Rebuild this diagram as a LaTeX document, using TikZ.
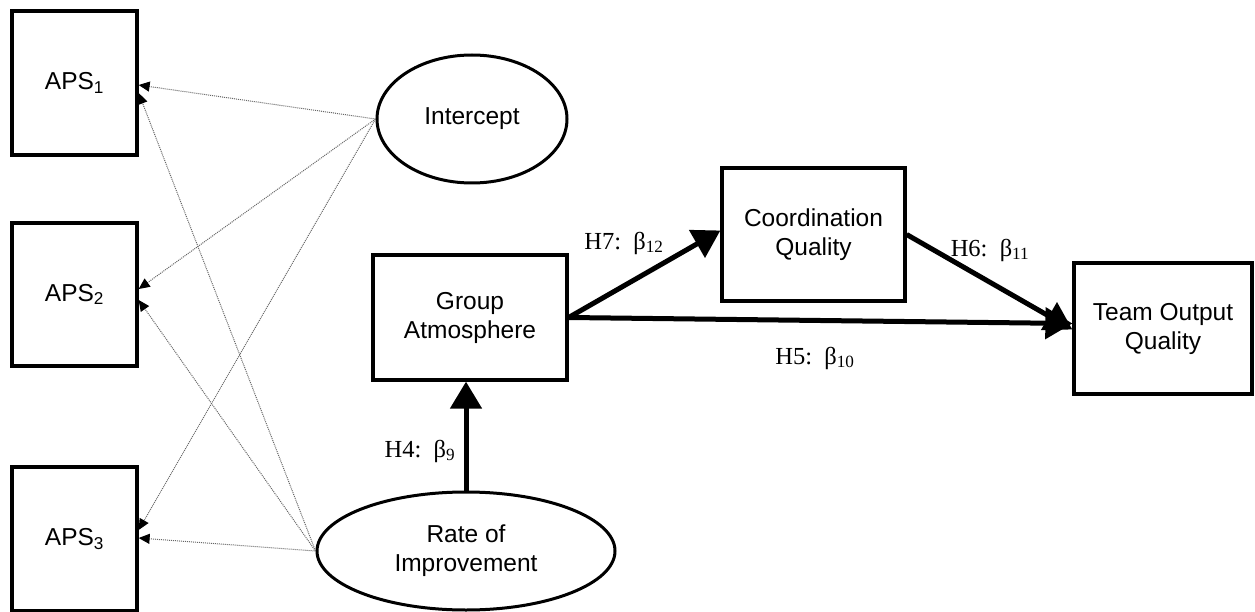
\documentclass[tikz,border=0pt]{standalone}
\usepackage{fontspec}
\setmainfont{Liberation Sans}
\newfontfamily\tnr{Liberation Serif}
\usetikzlibrary{arrows.meta,shapes.geometric}
\begin{document}
\begin{tikzpicture}[x=1pt,y=-1pt,
  box/.style={draw, line width=3.3pt, rectangle, align=center, inner sep=0pt,
    font=\fontsize{24.5}{29}\selectfont},
  oval/.style={draw, line width=3pt, ellipse, align=center, inner sep=0pt,
    font=\fontsize{24.5}{29}\selectfont},
  thinarr/.style={draw=black!60, line width=1pt, densely dotted,
    -{Triangle[length=11pt,width=10pt,color=black]}},
  thickarr/.style={line width=5pt, -{Triangle[length=27pt,width=31pt]}},
  lab/.style={font=\tnr\fontsize{24.5}{28}\selectfont, inner sep=0pt}]
\useasboundingbox (0,0) rectangle (1255,612);

\node[box, minimum width=125pt, minimum height=144pt] (aps1) at (74.5,83) {APS\textsubscript{1}};
\node[box, minimum width=125pt, minimum height=143pt] (aps2) at (74.5,294.5) {APS\textsubscript{2}};
\node[box, minimum width=125pt, minimum height=144pt] (aps3) at (74.5,539) {APS\textsubscript{3}};

\node[oval, minimum width=190pt, minimum height=128pt] (icpt) at (472,119) {Intercept};
\node[oval, minimum width=298pt, minimum height=118pt] (rate) at (466,551) {Rate of\\Improvement};

\node[box, minimum width=194pt, minimum height=125pt] (group) at (470,317.5) {Group\\Atmosphere};
\node[box, minimum width=183pt, minimum height=133pt] (coord) at (813.5,234.5) {Coordination\\Quality};
\node[box, minimum width=178pt, minimum height=131pt] (team) at (1163,328.5) {Team Output\\Quality};

\draw[thinarr] (icpt.west) -- ([yshift=-2pt]aps1.east);
\draw[thinarr] (icpt.west) -- ([yshift=5.5pt]aps2.east);
\draw[thinarr] (icpt.west) -- ([yshift=9pt]aps3.east);
\draw[thinarr] (rate.west) -- ([yshift=-10pt]aps1.east);
\draw[thinarr] (rate.west) -- ([yshift=-5.5pt]aps2.east);
\draw[thinarr] (rate.west) -- ([yshift=1pt]aps3.east);

\draw[thickarr] (rate.north) -- (rate.north |- group.south);
\draw[thickarr] (group.east) -- ([yshift=5pt]team.west);
\draw[thickarr] (coord.east) -- ([yshift=-1pt]team.west);
\draw[thickarr] (group.east) -- ([yshift=4pt]coord.west);

\node[lab] (l7) at (624,243) {H7:\ \ β\textsubscript{12}};
\node[lab] (l6) at (990,250) {H6:\ \ β\textsubscript{11}};
\node[lab] (l5) at (815,358) {H5:\ \ β\textsubscript{10}};
\node[lab] (l4) at (420,451) {H4:\ \ β\textsubscript{9}};
\end{tikzpicture}
\end{document}
